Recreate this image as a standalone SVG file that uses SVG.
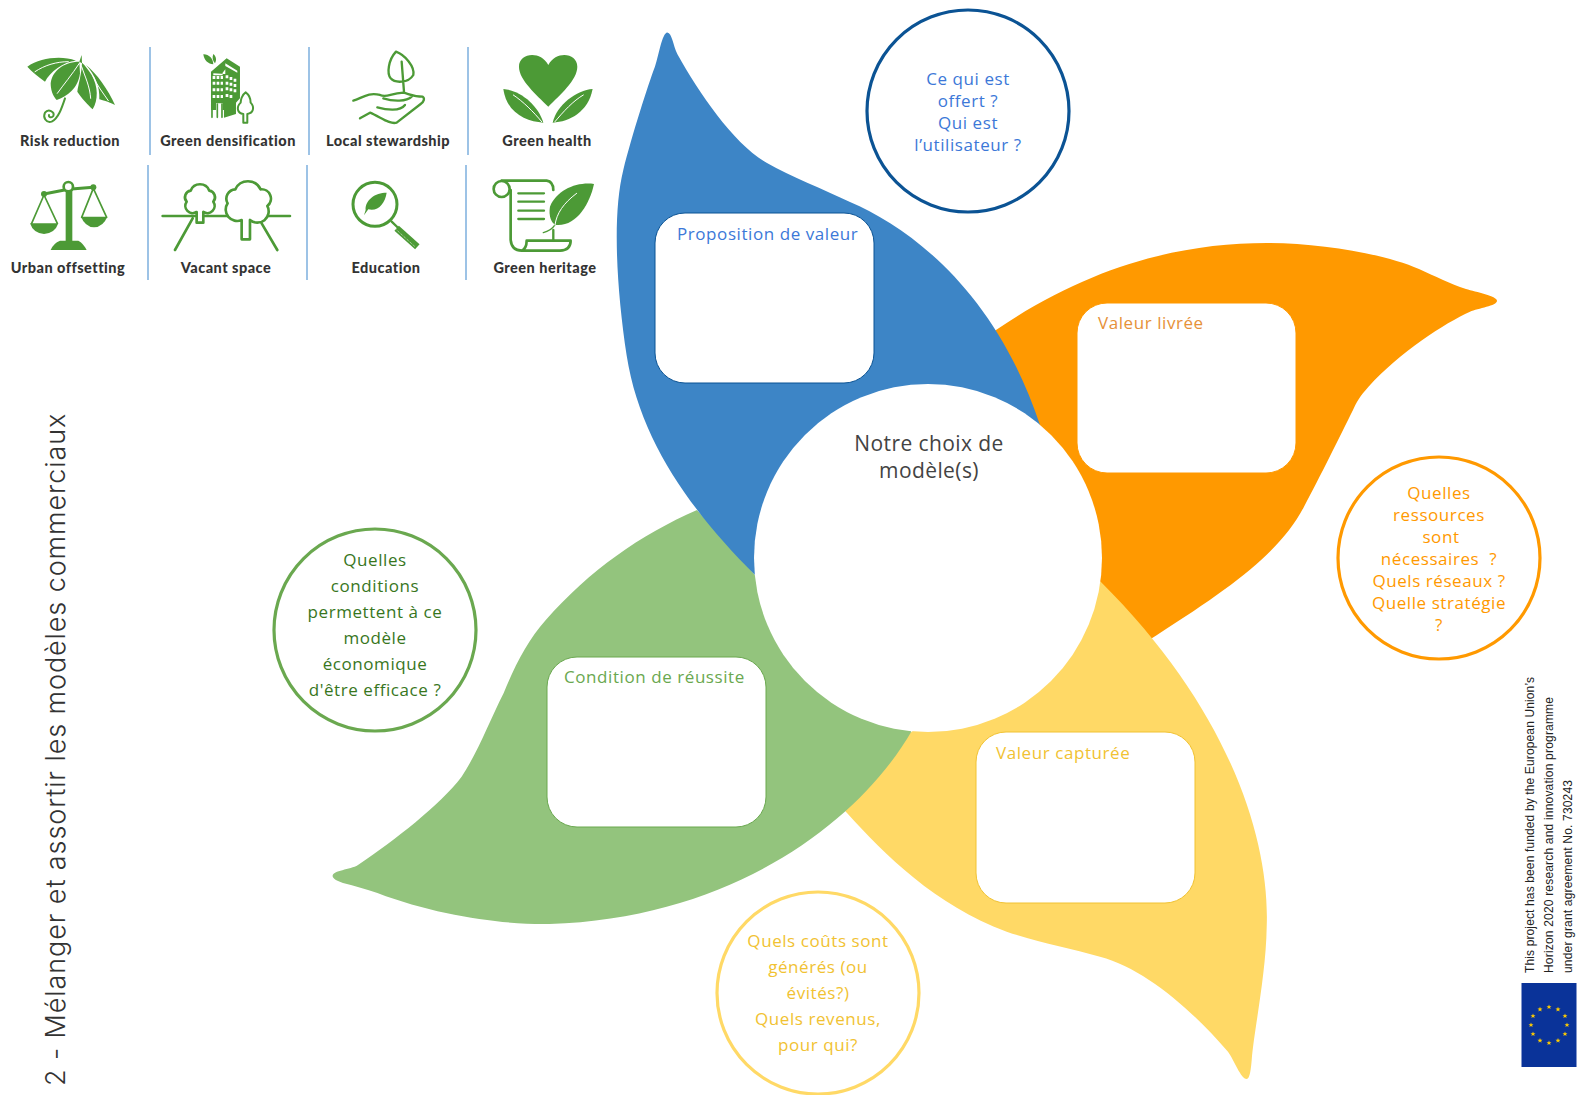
<svg xmlns="http://www.w3.org/2000/svg" width="1587" height="1095" viewBox="0 0 1587 1095">
<style>
text{font-family:"Open Sans","Noto Sans",sans-serif}
.c{text-anchor:middle;font-size:17px;letter-spacing:.57px}
.b{font-size:17px;letter-spacing:.57px}
.m{text-anchor:middle;font-size:21px;letter-spacing:.4px;fill:#434343}
.l{font-family:Lato,"Open Sans",sans-serif;font-weight:900;font-size:14.5px;fill:#333;text-anchor:middle;letter-spacing:.48px}
.ring{fill:#fff;stroke-width:3.2}
.box{fill:#fff;stroke-width:1}
.sep{stroke:#9dc3e6;stroke-width:2}
.g{fill:#4c9a36}
.s{fill:none;stroke:#4c9a36;stroke-linecap:round;stroke-linejoin:round}
.w{fill:none;stroke:#fff;stroke-linecap:round}
.fund{font-family:"Liberation Sans",sans-serif;font-size:12px;fill:#222}
</style>
<defs>
<polygon id="star" fill="#ffcc00" points="0,-2.6 .7,-.8 2.5,-.8 1.1,.3 1.6,2.1 0,1 -1.6,2.1 -1.1,.3 -2.5,-.8 -.7,-.8"/>
</defs>
<rect width="1587" height="1095" fill="#fff"/>

<g id="petal-orange"><path fill="#ff9900" d="M1497 300.7C1497 296 1476 292 1466 289C1450 284 1435 276 1419 269C1385 254 1320 243 1267 243C1180 243 1090 266 996 330L965 352L1040 470L1101 583L1130 652L1157 635C1235 585 1280 552 1304 506.7C1320 477 1340 436 1353 410C1356 403 1360 396 1368.5 386.7C1400 352 1445 323 1470 311.7C1478 308 1497 306 1497 300.7Z"/></g>
<g id="petal-yellow"><path fill="#ffd966" d="M1246.7 1079C1250 1079 1251 1068 1251.7 1060C1254 1030 1266 975 1266.7 926.7C1270 840 1230 710 1100.7 581.7L911.7 731.7L830 795L847 813C885 855 935 905 1006.7 931.7C1040 943 1070 948 1100 956.7C1145 969 1190 1008 1228 1051.7C1234 1060 1241 1079 1246.7 1079Z"/></g>
<g id="petal-green"><path fill="#93c47d" d="M332.6 876C333 870 350 870 358 865C395 840 440 805 461.6 776.7C478 752 490 720 503.7 693C515 665 528 640 545.8 620C590 570 640 535 697 510L755 575L911.3 731.7C860 820 735 918 549.6 924C510 925 440 917 377.4 893C366 889 355 886 343 883C338 881 332.6 879 332.6 876Z"/></g>
<g id="petal-blue"><path fill="#3d85c6" d="M667.3 32.5C672 33 673 45 677.3 54C700 95 735 145 767 163C790 176 825 190 850 202C910 228 995 290 1040 425L928 558L755 575C690 510 640 440 626.7 355.7C616.7 290 612 215 623.3 170C632 135 648 85 655 66.4C659 55 662 33 667.3 32.5Z"/></g>

<g id="center"><circle cx="928" cy="558" r="174" fill="#fff"/>
<text class="m" x="929" y="451">Notre choix de</text>
<text class="m" x="929" y="478">modèle(s)</text></g>

<g id="box-proposition"><rect class="box" stroke="#0b5394" x="655" y="213" width="219" height="170" rx="30"/><text class="b" x="677" y="240" fill="#3c78d8">Proposition de valeur</text></g>
<g id="box-livree"><rect class="box" stroke="#ff9900" x="1077" y="303" width="219" height="170" rx="30"/><text class="b" x="1098" y="329" fill="#e69138">Valeur livrée</text></g>
<g id="box-capturee"><rect class="box" stroke="#f1c232" x="976" y="732" width="219" height="171" rx="30"/><text class="b" x="996" y="759" fill="#f1c232">Valeur capturée</text></g>
<g id="box-condition"><rect class="box" stroke="#6aa84f" x="547" y="657" width="219" height="170" rx="30"/><text class="b" x="564" y="683" fill="#6aa84f">Condition de réussite</text></g>

<g id="q-offert"><circle class="ring" stroke="#0b5394" cx="968" cy="111" r="101"/>
<g fill="#3c78d8"><text class="c" x="968" y="85">Ce qui est</text><text class="c" x="968" y="107">offert ?</text><text class="c" x="968" y="129">Qui est</text><text class="c" x="968" y="151">l’utilisateur ?</text></g></g>
<g id="q-ressources"><circle class="ring" stroke="#ff9900" cx="1439" cy="558" r="101"/>
<g fill="#ff9900"><text class="c" x="1439" y="499">Quelles</text><text class="c" x="1439" y="521">ressources</text><text class="c" x="1441" y="543">sont</text><text class="c" x="1439" y="565" xml:space="preserve">nécessaires  ?</text><text class="c" x="1439" y="587">Quels réseaux ?</text><text class="c" x="1439" y="609">Quelle stratégie</text><text class="c" x="1439" y="631">?</text></g></g>
<g id="q-conditions"><circle class="ring" stroke="#6aa84f" cx="375" cy="630" r="101"/>
<g fill="#38761d"><text class="c" x="375" y="566">Quelles</text><text class="c" x="375" y="592">conditions</text><text class="c" x="375" y="618">permettent à ce</text><text class="c" x="375" y="644">modèle</text><text class="c" x="375" y="670">économique</text><text class="c" x="375" y="696">d'être efficace ?</text></g></g>
<g id="q-couts"><circle class="ring" stroke="#ffd966" cx="818" cy="993" r="101"/>
<g fill="#f1c232"><text class="c" x="818" y="947">Quels coûts sont</text><text class="c" x="818" y="973">générés (ou</text><text class="c" x="818" y="999">évités?)</text><text class="c" x="818" y="1025">Quels revenus,</text><text class="c" x="818" y="1051">pour qui?</text></g></g>

<text id="title" transform="translate(65,1086) rotate(-90)" style="font-family:Inter,'Open Sans',sans-serif;font-weight:300;letter-spacing:.9px" font-size="27" fill="#333">2 - Mélanger et assortir les modèles commerciaux</text>

<g id="separators">
<line class="sep" x1="150" y1="47" x2="150" y2="155"/><line class="sep" x1="309" y1="47" x2="309" y2="155"/><line class="sep" x1="468" y1="47" x2="468" y2="155"/>
<line class="sep" x1="148" y1="165" x2="148" y2="280"/><line class="sep" x1="307" y1="165" x2="307" y2="280"/><line class="sep" x1="466" y1="165" x2="466" y2="280"/>
</g>

<g id="icon-risk"><g transform="translate(0,30) scale(.3333)">
<path class="g" d="M82 110C120 85 180 75 228 92C190 95 150 125 135 155C115 140 95 125 82 110Z"/>
<path class="g" d="M238 95C190 95 155 125 152 160C152 190 165 205 170 210C200 200 235 175 240 130Z"/>
<path class="g" d="M245 75L238 95L246 100C245 130 235 165 232 185C245 205 265 225 278 238C295 210 295 170 275 135C265 120 255 105 246 98Z"/>
<path class="g" d="M258 105C290 130 325 180 345 225C325 215 305 210 298 208C300 170 285 135 258 105Z"/>
<path class="w" stroke-width="3" d="M105 125C135 105 170 95 205 95M172 190C190 165 215 135 238 100M245 110C255 140 270 170 272 205M280 140C290 165 310 190 325 212"/>
<path class="s" stroke-width="6" d="M195 205C185 235 175 265 155 275C138 280 128 262 135 248C145 235 165 245 160 258C155 265 145 262 147 255"/>
</g><text class="l" x="70" y="146">Risk reduction</text></g>

<g id="icon-densification"><g transform="translate(0,30) scale(.3333)">
<path class="g" d="M610 73C625 72 640 85 640 103C625 103 612 90 610 73ZM640 72C650 80 650 92 645 100C638 92 636 82 640 72Z"/>
<path class="g" d="M633 125L680 85L720 110V205L708 218V252L672 263V240H668V220H648V240H633Z"/>
<path fill="#fff" d="M676 100L712 122V128L676 108ZM640 136H668V128L676 118V132L640 130Z"/>
<path fill="#fff" d="M638 138h8v9h-8zM650 138h8v9h-8zM662 138h7v9h-7zM677 136h8v9h-8zM689 141h8v9h-8zM701 146h8v9h-8zM638 155h8v9h-8zM650 155h8v9h-8zM662 155h7v9h-7zM677 155h8v9h-8zM689 158h8v9h-8zM701 162h8v9h-8zM638 175h8v9h-8zM650 175h8v9h-8zM662 175h7v9h-7zM677 172h8v9h-8zM689 175h8v9h-8zM701 178h8v9h-8zM638 195h8v9h-8zM650 195h8v9h-8zM662 195h7v9h-7zM677 192h8v9h-8zM689 195h8v9h-8z"/>
<path class="s" stroke-width="5" d="M636 235V262M652 222V262M666 222V262"/>
<path fill="#fff" stroke="#4c9a36" stroke-width="6" stroke-linejoin="round" d="M737 187C725 195 722 212 722 218C708 232 712 250 730 252V278H742V252C760 250 765 232 752 218C752 210 748 195 737 187Z"/>
</g><text class="l" x="228" y="146">Green densification</text></g>

<g id="icon-stewardship"><g transform="translate(300,30) scale(.3333)">
<path class="s" stroke-width="7" d="M288 65C265 90 260 130 272 145C285 160 325 160 340 135C345 110 315 75 288 65ZM305 95L312 185"/>
<path class="s" stroke-width="7" d="M160 212C185 205 205 185 240 195C260 205 270 190 310 188C335 195 345 200 368 200C375 205 372 215 362 222L290 278C270 285 240 260 210 248L180 265M232 232C260 240 300 245 315 225M250 205C280 215 320 215 335 200"/>
</g><text class="l" x="388" y="146">Local stewardship</text></g>

<g id="icon-health"><g transform="translate(300,30) scale(.3333)">
<path class="g" d="M745 230C710 195 657 150 657 110C657 70 720 60 745 105C770 60 832 70 832 110C832 150 780 195 745 230Z"/>
<path class="g" d="M610 177C660 180 715 225 730 278C680 275 620 250 610 177Z"/>
<path class="g" d="M878 177C830 180 770 225 758 278C810 275 865 245 878 177Z"/>
<path class="w" stroke-width="3" d="M640 195C670 215 700 245 725 275M850 195C820 212 790 245 765 275"/>
</g><text class="l" x="547" y="146">Green health</text></g>

<g id="icon-offsetting"><g transform="translate(0,30) scale(.3333)">
<rect class="g" x="197" y="480" width="20" height="155"/>
<path class="g" d="M152 660Q160 640 180 632H235Q250 640 260 660Z"/>
<path class="s" stroke-width="9" d="M132 492L205 478L280 472"/>
<circle cx="205" cy="470" r="14" fill="#fff" stroke="#4c9a36" stroke-width="8"/>
<circle class="g" cx="132" cy="492" r="9"/><circle class="g" cx="280" cy="472" r="9"/>
<path class="s" stroke-width="5" d="M95 580L132 495L172 580M245 562L280 475L320 562"/>
<path class="g" d="M90 580H175Q165 610 132 612Q100 610 90 580Z"/>
<path class="g" d="M243 560H322Q310 590 282 592Q255 590 243 560Z"/>
</g><text class="l" x="68" y="273">Urban offsetting</text></g>

<g id="icon-vacant"><g transform="translate(0,30) scale(.3333)">
<path class="s" stroke-width="8" d="M488 558H870M578 565L525 660M785 580L832 660"/>
<path fill="#fff" stroke="#4c9a36" stroke-width="8" stroke-linejoin="round" d="M590 546A22 22 0 0 1 560 515A20 20 0 0 1 572 482A30 30 0 0 1 628 482A20 20 0 0 1 640 515A22 22 0 0 1 610 546V578H590Z"/>
<path fill="#fff" stroke="#4c9a36" stroke-width="8" stroke-linejoin="round" d="M725 570A34 34 0 0 1 683 520A28 28 0 0 1 706 478A42 42 0 0 1 782 478A28 28 0 0 1 802 528A34 34 0 0 1 750 570V628H725Z"/>
</g><text class="l" x="226" y="273">Vacant space</text></g>

<g id="icon-education"><g transform="translate(300,30) scale(.3333)">
<circle cx="225" cy="523" r="66" fill="none" stroke="#4c9a36" stroke-width="9"/>
<path class="g" d="M260 488C225 488 195 510 197 540L192 556L205 538C235 545 255 520 260 488Z"/>
<path class="s" stroke-width="7" d="M275 575L298 597"/>
<path stroke="#4c9a36" stroke-width="20" d="M290 595L352 650"/>
<path stroke="#fff" stroke-width="2" stroke-dasharray="3 3" d="M290 600L345 650"/>
</g><text class="l" x="386" y="273">Education</text></g>

<g id="icon-heritage"><g transform="translate(300,30) scale(.3333)">
<path class="s" stroke-width="8" d="M605 452H740Q760 455 760 480M632 480V630Q635 662 665 662H780Q812 660 812 632H680Q680 655 665 662"/>
<circle cx="605" cy="477" r="24" fill="none" stroke="#4c9a36" stroke-width="8"/>
<path class="s" stroke-width="7" d="M655 490H732M655 515H732M655 542H732M655 567H732M760 600V632"/>
<path class="g" d="M882 462C830 455 770 480 750 530C745 560 755 580 768 585C830 590 870 520 882 462Z"/>
<path class="s" stroke-width="4" d="M765 585C755 600 745 605 730 608"/>
<path class="w" stroke-width="3" d="M830 490C790 520 770 550 765 585"/>
</g><text class="l" x="545" y="273">Green heritage</text></g>

<g id="funding">
<text class="fund" transform="translate(1534,973) rotate(-90)" textLength="296">This project has been funded by the European Union’s</text>
<text class="fund" transform="translate(1553,973) rotate(-90)" textLength="276">Horizon 2020 research and innovation programme</text>
<text class="fund" transform="translate(1572,973) rotate(-90)" textLength="193">under grant agreement No. 730243</text>
<rect x="1521.5" y="983" width="55" height="84" fill="#0a3399"/>
<use href="#star" x="1549" y="1007"/><use href="#star" x="1558" y="1009.4"/><use href="#star" x="1565" y="1016"/><use href="#star" x="1567" y="1025"/><use href="#star" x="1565" y="1034"/><use href="#star" x="1558" y="1040.6"/><use href="#star" x="1549" y="1043"/><use href="#star" x="1540" y="1040.6"/><use href="#star" x="1533" y="1034"/><use href="#star" x="1531" y="1025"/><use href="#star" x="1533" y="1016"/><use href="#star" x="1540" y="1009.4"/>
</g>
</svg>
